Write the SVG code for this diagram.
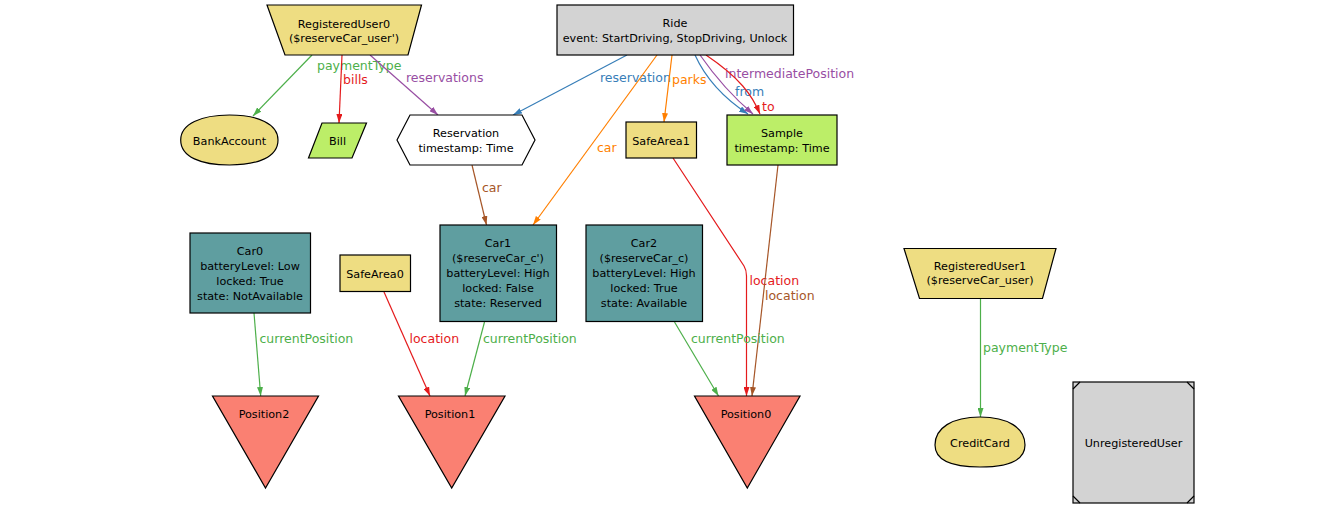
<svg xmlns="http://www.w3.org/2000/svg" width="1343" height="507" viewBox="0 0 1343 507">
<style>
.n{stroke:#000;stroke-width:1.2}
.y{fill:#EEDD82}.t{fill:#5F9EA0}.g{fill:#BCEE68}.s{fill:#FA8072}.l{fill:#D3D3D3}.w{fill:#fff}
text{font-family:"DejaVu Sans","Liberation Sans",sans-serif}
.nt{font-size:11.2px;fill:#000;text-anchor:middle}
.el{font-size:12.5px}
.e{fill:none;stroke-width:1.2}
.cg{stroke:#4DAF4A}.cr{stroke:#E41A1C}.cp{stroke:#984EA3}.cb{stroke:#377EB8}.co{stroke:#FF7F00}.cn{stroke:#A65628}
</style>
<defs>
<marker id="ag" markerWidth="9" markerHeight="6" refX="9" refY="3" orient="auto" markerUnits="userSpaceOnUse"><path d="M0,0 L9,3 L0,6 z" fill="#4DAF4A"/></marker>
<marker id="ar" markerWidth="9" markerHeight="6" refX="9" refY="3" orient="auto" markerUnits="userSpaceOnUse"><path d="M0,0 L9,3 L0,6 z" fill="#E41A1C"/></marker>
<marker id="ap" markerWidth="9" markerHeight="6" refX="9" refY="3" orient="auto" markerUnits="userSpaceOnUse"><path d="M0,0 L9,3 L0,6 z" fill="#984EA3"/></marker>
<marker id="ab" markerWidth="9" markerHeight="6" refX="9" refY="3" orient="auto" markerUnits="userSpaceOnUse"><path d="M0,0 L9,3 L0,6 z" fill="#377EB8"/></marker>
<marker id="ao" markerWidth="9" markerHeight="6" refX="9" refY="3" orient="auto" markerUnits="userSpaceOnUse"><path d="M0,0 L9,3 L0,6 z" fill="#FF7F00"/></marker>
<marker id="an" markerWidth="9" markerHeight="6" refX="9" refY="3" orient="auto" markerUnits="userSpaceOnUse"><path d="M0,0 L9,3 L0,6 z" fill="#A65628"/></marker>
</defs>
<rect width="1343" height="507" fill="#fff"/>

<g id="connectors">
<path class="e cg" d="M312,55 L253,116" marker-end="url(#ag)"/>
<text class="el" x="317" y="69.5" fill="#4DAF4A">paymentType</text>
<path class="e cr" d="M342,55 L339,123" marker-end="url(#ar)"/>
<text class="el" x="343" y="84" fill="#E41A1C">bills</text>
<path class="e cp" d="M370,55 L438,115" marker-end="url(#ap)"/>
<text class="el" x="406" y="81.5" fill="#984EA3">reservations</text>
<path class="e cb" d="M627,55 L513,115" marker-end="url(#ab)"/>
<text class="el" x="600" y="81.5" fill="#377EB8">reservation</text>
<path class="e co" d="M657,55 L533,225" marker-end="url(#ao)"/>
<text class="el" x="597" y="151.5" fill="#FF7F00">car</text>
<path class="e co" d="M672,55 L664,122" marker-end="url(#ao)"/>
<text class="el" x="672" y="84" fill="#FF7F00">parks</text>
<path class="e cb" d="M695,55 C705,77 722,97 748,114" marker-end="url(#ab)"/>
<text class="el" x="735" y="96" fill="#377EB8">from</text>
<path class="e cp" d="M700,55 C716,78 733,97 753,114" marker-end="url(#ap)"/>
<text class="el" x="725" y="77.5" fill="#984EA3">intermediatePosition</text>
<path class="e cr" d="M706,55 C740,78 752,95 760,114" marker-end="url(#ar)"/>
<text class="el" x="762" y="110.5" fill="#E41A1C">to</text>
<path class="e cn" d="M472,165 L486.5,225" marker-end="url(#an)"/>
<text class="el" x="482" y="191.5" fill="#A65628">car</text>
<path class="e cr" d="M673,158 L744,266 Q746.5,270 746.5,276 L746.5,396" marker-end="url(#ar)"/>
<text class="el" x="749.5" y="284.5" fill="#E41A1C">location</text>
<path class="e cn" d="M778,165 L752,396" marker-end="url(#an)"/>
<text class="el" x="765" y="299.5" fill="#A65628">location</text>
<path class="e cg" d="M254,313 L260.7,396" marker-end="url(#ag)"/>
<text class="el" x="259.5" y="342.5" fill="#4DAF4A">currentPosition</text>
<path class="e cr" d="M384,292 L430,396" marker-end="url(#ar)"/>
<text class="el" x="409.5" y="342.5" fill="#E41A1C">location</text>
<path class="e cg" d="M484.5,322 L465,396" marker-end="url(#ag)"/>
<text class="el" x="483" y="342.5" fill="#4DAF4A">currentPosition</text>
<path class="e cg" d="M674.5,322 L718.5,396" marker-end="url(#ag)"/>
<text class="el" x="691" y="342.5" fill="#4DAF4A">currentPosition</text>
<path class="e cg" d="M980.5,298.5 L980.5,417" marker-end="url(#ag)"/>
<text class="el" x="983" y="351.5" fill="#4DAF4A">paymentType</text>
</g>

<g id="RegisteredUser0">
<polygon class="n y" points="267,5 421.5,5 408,55 285,55"/>
<text class="nt" x="344" y="27.5">RegisteredUser0</text>
<text class="nt" x="344" y="42">($reserveCar_user')</text>
</g>
<g id="Ride">
<rect class="n l" x="557" y="5" width="236.5" height="50"/>
<text class="nt" x="675" y="27">Ride</text>
<text class="nt" x="675" y="42">event: StartDriving, StopDriving, Unlock</text>
</g>
<g id="BankAccount">
<path class="n y" d="M180.7,140 C180.7,124 201,115 229.5,115 C258,115 278,124 278,140 C278,157 258,165 229.5,165 C201,165 180.7,157 180.7,140 Z"/>
<text class="nt" x="229.5" y="144.5">BankAccount</text>
</g>
<g id="Bill">
<polygon class="n g" points="322,123 366.5,123 352,158 308.5,158"/>
<text class="nt" x="337.5" y="145">Bill</text>
</g>
<g id="Reservation">
<polygon class="n w" points="397,140 410,115 522,115 535,140 522,165 410,165"/>
<text class="nt" x="466" y="137">Reservation</text>
<text class="nt" x="466" y="152">timestamp: Time</text>
</g>
<g id="SafeArea1">
<rect class="n y" x="626" y="122" width="70.5" height="36"/>
<text class="nt" x="661" y="145">SafeArea1</text>
</g>
<g id="Sample">
<rect class="n g" x="727" y="115" width="110" height="50"/>
<text class="nt" x="782" y="137">Sample</text>
<text class="nt" x="782" y="152">timestamp: Time</text>
</g>
<g id="Car0">
<rect class="n t" x="190" y="233" width="120.5" height="80"/>
<text class="nt" x="250" y="254.5">Car0</text>
<text class="nt" x="250" y="269.5">batteryLevel: Low</text>
<text class="nt" x="250" y="284.5">locked: True</text>
<text class="nt" x="250" y="299.5">state: NotAvailable</text>
</g>
<g id="SafeArea0">
<rect class="n y" x="340" y="255" width="70.5" height="36.5"/>
<text class="nt" x="375" y="278">SafeArea0</text>
</g>
<g id="Car1">
<rect class="n t" x="440" y="225" width="116.5" height="96.5"/>
<text class="nt" x="498" y="247.3">Car1</text>
<text class="nt" x="498" y="262.3">($reserveCar_c')</text>
<text class="nt" x="498" y="277.3">batteryLevel: High</text>
<text class="nt" x="498" y="292.3">locked: False</text>
<text class="nt" x="498" y="307.3">state: Reserved</text>
</g>
<g id="Car2">
<rect class="n t" x="586" y="225" width="116.5" height="96.5"/>
<text class="nt" x="644" y="247.3">Car2</text>
<text class="nt" x="644" y="262.3">($reserveCar_c)</text>
<text class="nt" x="644" y="277.3">batteryLevel: High</text>
<text class="nt" x="644" y="292.3">locked: True</text>
<text class="nt" x="644" y="307.3">state: Available</text>
</g>
<g id="RegisteredUser1">
<polygon class="n y" points="904,248.5 1056,248.5 1042.5,298.5 919.5,298.5"/>
<text class="nt" x="980" y="269.5">RegisteredUser1</text>
<text class="nt" x="980" y="284.3">($reserveCar_user)</text>
</g>
<g id="Position2">
<polygon class="n s" points="212.5,396 318.5,396 265.5,488"/>
<text class="nt" x="264" y="418.3">Position2</text>
</g>
<g id="Position1">
<polygon class="n s" points="398.5,396 505,396 451.7,488"/>
<text class="nt" x="450" y="418.3">Position1</text>
</g>
<g id="Position0">
<polygon class="n s" points="694.5,396 800,396 747.3,488"/>
<text class="nt" x="746" y="418.3">Position0</text>
</g>
<g id="CreditCard">
<path class="n y" d="M935,445 C935,428 952,417 980,417 C1008,417 1025,428 1025,445 C1025,461 1008,467 980,467 C952,467 935,461 935,445 Z"/>
<text class="nt" x="980" y="446.5">CreditCard</text>
</g>
<g id="UnregisteredUser">
<rect class="n l" x="1073" y="382" width="121" height="121"/>
<path d="M1073,389 L1080,382 M1187,382 L1194,389 M1194,496 L1187,503 M1080,503 L1073,496" stroke="#000" stroke-width="1.2" fill="none"/>
<text class="nt" x="1133.5" y="446.5">UnregisteredUser</text>
</g>
</svg>
